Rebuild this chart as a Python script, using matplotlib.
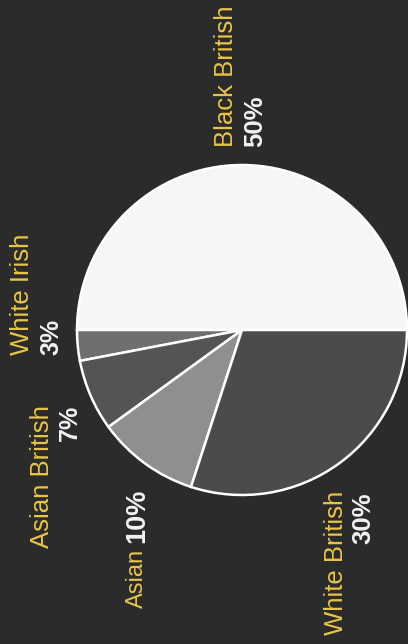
import matplotlib
matplotlib.use("Agg")
import matplotlib.pyplot as plt

# Ethnic group shares (percent)
groups = ["Black British", "White Irish", "Asian British", "Asian", "White British"]
shares = [50, 3, 7, 10, 30]

wedge_colors = ["#f6f6f6", "#6f6f6f", "#545454", "#8f8f8f", "#4b4b4b"]
bg = "#2b2b2b"
label_color = "#e9c547"
pct_color = "#f2f2f2"

W, H = 408, 644
fig = plt.figure(figsize=(W / 100, H / 100), dpi=100, facecolor=bg)
ax = fig.add_axes([0, 0, 1, 1])
ax.set_facecolor(bg)

cx, cy, r = 242, 330, 165
ax.pie(shares, colors=wedge_colors, startangle=0, counterclock=True,
       center=(cx, H - cy), radius=r, frame=True,
       wedgeprops=dict(edgecolor="white", linewidth=1.8))
ax.set_xlim(0, W)
ax.set_ylim(0, H)
ax.set_aspect("equal")
ax.axis("off")

font = "Liberation Sans"

# (x, y, va, size) of group name and of percentage, in pixels from the top-left
name_pos = {
    "Black British": (226, 147, "bottom", 18.5),
    "White Irish": (22, 355, "bottom", 18.5),
    "Asian British": (42, 548, "bottom", 18.5),
    "Asian": (137, 608, "bottom", 17),
    "White British": (336, 635, "bottom", 18.5),
}
pct_pos = {
    "Black British": (255, 147, "bottom", 18.5),
    "White Irish": (51, 355, "bottom", 18),
    "Asian British": (70, 405, "top", 18),
    "Asian": (137, 543, "bottom", 19.5),
    "White British": (363, 492, "top", 18.5),
}

for g, v in zip(groups, shares):
    x, y, va, s = name_pos[g]
    ax.text(x, H - y, g, rotation=90, ha="center", va=va, color=label_color,
            fontsize=s, family=font)
    x, y, va, s = pct_pos[g]
    ax.text(x, H - y, f"{v}%", rotation=90, ha="center", va=va, color=pct_color,
            fontsize=s, family=font, fontweight="bold")

fig.savefig("out.png", dpi=100, facecolor=bg)
